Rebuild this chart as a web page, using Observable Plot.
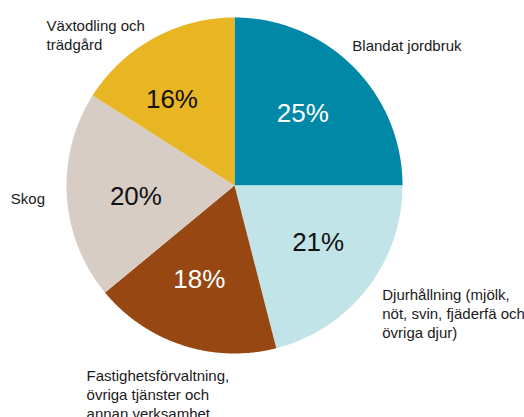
<!DOCTYPE html>
<html>
<head>
<meta charset="utf-8">
<script src="https://cdn.jsdelivr.net/npm/d3@7"></script>
<script src="https://cdn.jsdelivr.net/npm/@observablehq/plot@0.6"></script>
<style>
  html, body { margin: 0; padding: 0; background: #fff; }
  #chart svg { display: block; }
</style>
</head>
<body>
<div id="chart"></div>
<script>
// Data
const categories = ["Blandat jordbruk", "Djurhållning", "Fastighetsförvaltning", "Skog", "Växtodling och trädgård"];
const labels = [
  "Blandat jordbruk",
  "Djurhållning (mjölk,\nnöt, svin, fjäderfä och\növriga djur)",
  "Fastighetsförvaltning,\növriga tjänster och\nannan verksamhet",
  "Skog",
  "Växtodling och\nträdgård"
];
const values = [25, 21, 18, 20, 16];
const palette = ["#0088a6", "#c1e4e9", "#964712", "#d7cdc5", "#e8b523"];

const total = d3.sum(values);
// Slices clockwise from 12 o'clock
let acc = 0;
const slices = categories.map((name, i) => {
  const a0 = acc / total * 2 * Math.PI;
  acc += values[i];
  const a1 = acc / total * 2 * Math.PI;
  return {name, label: labels[i], value: values[i], a0, a1, mid: (a0 + a1) / 2, i};
});

// Polygon points for each wedge (unit circle coordinates)
const wedgePts = [];
for (const s of slices) {
  wedgePts.push({name: s.name, x: 0, y: 0});
  const n = Math.max(2, Math.ceil((s.a1 - s.a0) / (Math.PI / 360)));
  for (let k = 0; k <= n; k++) {
    const a = s.a0 + (s.a1 - s.a0) * k / n;
    wedgePts.push({name: s.name, x: Math.sin(a), y: Math.cos(a)});
  }
  wedgePts.push({name: s.name, x: 0, y: 0});
}

// percentage labels at 0.6 radius on each slice's mid-angle, with small nudges
const pctNudge = {
  "Blandat jordbruk": [-3, -1],
  "Djurhållning": [4, -5],
  "Fastighetsförvaltning": [-4, -2],
  "Skog": [2, 5],
  "Växtodling och trädgård": [-14, 3]
};
const pctR = 0.6;
const pctData = slices.map(s => ({
  name: s.name,
  text: s.value + "%",
  x: pctR * Math.sin(s.mid),
  y: pctR * Math.cos(s.mid),
  dark: s.name === "Blandat jordbruk" || s.name === "Fastighetsförvaltning"
}));

// outer labels anchored at the rim at each slice's mid-angle, nudged into place
const nudges = {
  "Blandat jordbruk": [-1, -28.6],
  "Djurhållning": [15, -1.4],
  "Fastighetsförvaltning": [-96, 22.5],
  "Skog": [-56, -5.6],
  "Växtodling och trädgård": [-107, -20.8]
};
const outer = slices.map(s => ({
  name: s.name,
  text: s.label,
  x: Math.sin(s.mid),
  y: Math.cos(s.mid)
}));

const FONT = "'Liberation Sans', Arial, sans-serif";

const marks = [
  Plot.line(wedgePts, {x: "x", y: "y", z: "name", fill: "name", stroke: null, curve: "linear"}),
  ...pctData.map(d => Plot.text([d], {
    x: "x", y: "y", text: "text",
    dx: pctNudge[d.name][0], dy: pctNudge[d.name][1],
    fill: d.dark ? "white" : "#111", fontSize: 26, fontFamily: FONT, letterSpacing: "-0.4px"
  })),
  ...outer.map(d => Plot.text([d], {
    x: "x", y: "y", text: "text",
    textAnchor: "start", lineAnchor: "top", lineHeight: 1.25,
    dx: nudges[d.name][0], dy: nudges[d.name][1],
    fill: "#1a1a1a", fontSize: 15, fontFamily: FONT, letterSpacing: "-0.5px"
  }))
];

const chart = Plot.plot({
  width: 524,
  height: 417,
  margin: 0,
  x: {domain: [-1, 1], range: [66, 402], axis: null},
  y: {domain: [-1, 1], range: [353, 17], axis: null},
  color: {domain: categories, range: palette},
  style: {background: "white", overflow: "visible"},
  marks
});
document.getElementById("chart").appendChild(chart);
</script>
</body>
</html>
